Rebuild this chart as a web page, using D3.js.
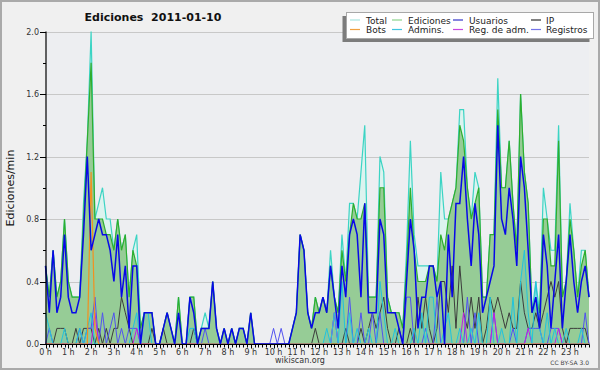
<!DOCTYPE html>
<html><head><meta charset="utf-8">
<script src="https://cdn.jsdelivr.net/npm/d3@7/dist/d3.min.js"></script>
<style>html,body{margin:0;padding:0;background:#f0f0f0;}svg{display:block;font-family:"DejaVu Sans",sans-serif;}</style>
</head><body><svg id="c" width="600" height="370"></svg>
<script>
// 10-minute slots, 00:00 .. 23:50 (144 values per series, edits per minute)
const hourLabels = ["0 h","1 h","2 h","3 h","4 h","5 h","6 h","7 h","8 h","9 h","10 h","11 h","12 h","13 h","14 h","15 h","16 h","17 h","18 h","19 h","20 h","21 h","22 h","23 h"];
const yTicks = [0, 0.4, 0.8, 1.2, 1.6, 2.0];
const yMinorTicks = [0.2, 0.6, 1.0, 1.4, 1.8];

const total = [
0.5,0.3,0.6,0.3,0.4,0.8,0.4,0.3,0.3,0.3,0.9,1.3,
2.0,0.8,0.9,1.0,0.8,0.8,0.6,0.8,0.6,0.7,0.3,0.6,
0.7,0.1,0.2,0.2,0.2,0,0,0.1,0.2,0.1,0,0.3,
0,0,0.3,0.3,0,0.1,0.2,0.1,0.4,0.1,0,0.1,
0,0.1,0,0.1,0.1,0,0.2,0,0,0,0,0,
0,0,0,0,0,0.1,0.2,0.7,0.6,0.2,0.1,0.3,
0.2,0.3,0.2,0.6,0.3,0.2,0.7,0.4,0.9,0.9,0.8,1.1,
1.4,0.3,0.3,0.3,1.2,1.1,0.3,0.2,0.2,0.2,0.1,0.6,
1.3,0.7,0.5,0.5,0.5,0.5,0.5,0.4,1.1,0.8,0.8,0.9,
1.0,1.5,1.5,1.0,0.8,1.1,1.0,0.3,0.3,0.7,0.7,1.7,
1.0,1.0,1.3,0.9,0.6,1.6,1.1,0.9,0.2,0.4,0.2,1.0,
0.8,0.6,0.6,1.4,0.3,0.4,0.9,0.6,0.3,0.6,0.6,0.3];

const ediciones = [
0.5,0.3,0.6,0.3,0.4,0.8,0.4,0.3,0.3,0.3,0.8,1.3,
1.8,0.8,0.8,0.8,0.7,0.7,0.6,0.8,0.6,0.7,0.3,0.6,
0.5,0.1,0.2,0.2,0.2,0,0,0.1,0.2,0.1,0,0.3,
0,0,0.3,0.3,0,0.1,0.1,0.1,0.4,0.1,0,0.1,
0,0.1,0,0.1,0.1,0,0.2,0,0,0,0,0,
0,0,0,0,0,0.1,0.2,0.7,0.6,0.2,0.1,0.3,
0.2,0.3,0.2,0.5,0.3,0.2,0.6,0.4,0.7,0.9,0.8,0.8,
0.9,0.3,0.3,0.3,1.0,1.0,0.3,0.2,0.2,0.2,0.1,0.5,
1.0,0.6,0.4,0.4,0.4,0.5,0.5,0.4,0.7,0.6,0.8,0.9,
1.0,1.4,1.3,1.0,0.8,0.9,1.0,0.3,0.3,0.7,0.7,1.5,
1.0,1.0,1.3,0.9,0.6,1.6,1.1,0.9,0.2,0.3,0.2,0.8,
0.8,0.5,0.5,1.3,0.3,0.4,0.8,0.6,0.3,0.5,0.6,0.3];

const usuarios = [
0.5,0.2,0.6,0.2,0.3,0.7,0.3,0.2,0.2,0.3,0.7,1.2,
0.6,0.7,0.8,0.7,0.7,0.6,0.4,0.7,0.3,0.5,0.1,0.5,
0.5,0,0.2,0.2,0.2,0,0,0.1,0.2,0.1,0,0.2,
0,0,0.3,0.2,0,0.1,0.1,0.1,0.4,0.1,0,0.1,
0,0.1,0,0.1,0.1,0,0.2,0,0,0,0,0,
0,0,0,0,0,0.1,0.2,0.7,0.6,0.2,0.1,0.2,
0.2,0.3,0.2,0.5,0.3,0.1,0.5,0.3,0.7,0.8,0.7,0.3,
0.9,0.2,0.2,0.2,0.8,0.7,0.2,0.2,0.2,0.1,0,0.4,
0.8,0.6,0.1,0.3,0.3,0.5,0.5,0.3,0.4,0,0.7,0.3,
0.9,0.9,1.2,0.8,0.5,0.9,0.7,0.2,0.3,0.4,0.5,1.4,
0.8,0.7,1.0,0.8,0.5,1.2,1.0,0.6,0.2,0.3,0.1,0.7,
0.5,0.1,0.4,0.7,0.1,0.4,0.7,0.4,0.2,0.4,0.5,0.3];

const ip = [
0,0,0,0.1,0.1,0.1,0,0,0.1,0,0.1,0.1,
0.1,0,0.1,0,0.1,0,0.1,0.1,0.3,0.2,0.1,0,
0,0,0,0,0.1,0,0,0.1,0,0,0,0,
0,0,0,0.1,0,0,0,0,0,0,0,0,
0,0,0,0,0,0,0,0,0,0,0,0,
0,0,0,0,0,0,0,0,0,0,0,0.1,
0,0,0,0,0,0,0,0.1,0,0,0,0.1,
0,0.1,0.2,0.1,0.2,0.3,0.1,0,0,0.1,0,0,
0.1,0,0.3,0.1,0.3,0.1,0,0.1,0.4,0.4,0.2,0.5,
0.1,0.5,0.2,0.1,0.3,0.1,0.3,0,0.1,0.3,0.2,0.3,
0.2,0.1,0.2,0.1,0.1,0.4,0.2,0.1,0.1,0.2,0.1,0.2,
0.3,0.4,0.3,0.4,0.1,0,0.1,0.1,0.1,0.1,0.1,0];

const bots = [
0,0,0,0,0,0,0,0,0,0,0,0,
1.1,0.1,0,0,0,0,0,0,0,0,0,0,
0,0,0,0,0,0,0,0,0,0,0,0,
0,0,0,0,0,0,0,0,0,0,0,0,
0,0,0,0,0,0,0,0,0,0,0,0,
0,0,0,0,0,0,0,0,0,0,0,0,
0,0,0,0,0,0,0,0,0,0,0,0,
0,0,0,0,0,0,0,0,0,0,0,0,
0,0,0,0,0,0,0,0,0,0,0,0,
0,0,0,0,0,0,0,0,0,0,0,0,
0,0,0,0,0,0,0,0,0,0,0,0,
0,0,0,0,0,0,0,0,0,0,0,0];

const admins = [
0.2,0.1,0,0,0,0.1,0,0,0,0.1,0,0.1,
0.2,0,0,0,0,0,0,0,0,0,0,0.1,
0.2,0,0.2,0.2,0,0,0,0,0,0,0,0,
0,0,0.1,0.1,0,0,0,0,0,0,0,0,
0,0,0,0,0,0,0,0,0,0,0,0,
0,0,0,0,0,0,0,0,0,0,0,0,
0,0,0.1,0,0.2,0,0.4,0,0.2,0,0.1,0,
0,0.1,0,0,0.4,0.2,0,0,0.1,0,0,0,
0,0.1,0,0.2,0,0.3,0.3,0,0,0.1,0.2,0,
0,0.1,0,0,0.1,0,0.2,0,0,0.3,0,0,
0.1,0,0,0.3,0,0.4,0.6,0.2,0,0.4,0.1,0,
0.2,0,0.1,0,0,0.1,0,0,0,0.1,0,0];

const regAdm = [
0,0,0,0,0,0,0,0,0,0,0,0,
0,0.2,0,0,0,0,0,0,0,0,0,0,
0.1,0,0,0,0,0,0,0,0,0,0,0,
0,0,0,0,0,0,0,0,0,0,0,0,
0,0,0,0,0,0,0,0,0,0,0,0,
0,0,0,0,0,0,0,0,0,0,0,0,
0,0,0,0,0.2,0,0,0,0,0,0,0,
0,0,0,0,0,0,0,0,0,0,0,0,
0,0,0,0,0,0,0,0,0,0,0,0,
0,0,0.2,0,0,0,0,0,0,0,0.2,0,
0,0,0,0,0,0,0,0.1,0,0,0,0,
0,0,0,0.1,0,0,0,0,0,0,0,0];

const registros = [
0,0.1,0,0,0,0,0,0,0,0.1,0,0.1,
0.1,0.3,0,0.2,0,0.1,0.2,0,0.1,0,0.1,0.1,
0.1,0,0,0,0,0,0,0,0,0,0,0,
0,0,0,0,0,0,0.1,0,0,0,0,0,
0,0,0,0,0,0,0,0,0,0,0,0,
0.1,0,0.1,0,0,0,0,0,0,0,0,0,
0,0,0,0,0.2,0,0,0,0.3,0,0,0.2,
0,0,0.2,0,0.2,0,0,0,0,0,0,0.3,
0.3,0,0,0,0.1,0,0,0.3,0,0,0,0,
0,0,0,0.3,0,0.2,0,0,0,0,0.2,0,
0,0,0,0.1,0,0,0,0.1,0.1,0.1,0.1,0,
0,0.1,0.1,0.1,0,0,0,0,0,0,0.2,0];

const legendNames = ["Total","Ediciones","Usuarios","IP","Bots","Admins.","Reg. de adm.","Registros"];
const legendColors = ["#a8e4e0","#8cd48c","#3434c8","#303030","#f0a040","#40c4e0","#c848e0","#7474e8"];

const svg = d3.select("#c");
const W = 600, H = 370;
svg.append("rect").attr("x",1).attr("y",1).attr("width",W-2).attr("height",H-2)
  .attr("fill","#f0f0f0").attr("stroke","#aaaaaa").attr("stroke-width",2);

const x = d3.scaleLinear().domain([0, total.length - 1]).range([45.5, 589]);
const y = d3.scaleLinear().domain([0, 2]).range([344, 31.5]);
const idx = d3.range(total.length);

svg.append("rect").attr("x",x(0)).attr("y",y(2)).attr("width",x(143)-x(0)).attr("height",y(0)-y(2)).attr("fill","#edeef1");

// grid
svg.append("g").selectAll("line").data(yTicks.slice(1)).join("line")
  .attr("x1",x(0)).attr("x2",x(143)).attr("y1",d=>Math.round(y(d))+0.5).attr("y2",d=>Math.round(y(d))+0.5)
  .attr("stroke","#c8c8c8").attr("stroke-width",1);

const area = arr => d3.area().x(i=>x(i)).y0(y(0)).y1(i=>y(arr[i]))(idx);
const line = arr => d3.line().x(i=>x(i)).y(i=>y(arr[i]))(idx);

const plot = svg.append("g");
plot.append("path").attr("d",area(total)).attr("fill","#d9f3ee").attr("fill-opacity",0.9);
plot.append("path").attr("d",line(total)).attr("fill","none").attr("stroke","#3cd4c4").attr("stroke-width",1.2);
plot.append("path").attr("d",area(ediciones)).attr("fill","#96cc96");
plot.append("path").attr("d",area(admins)).attr("fill","#40b8e0").attr("fill-opacity",0.18);
plot.append("path").attr("d",line(ediciones)).attr("fill","none").attr("stroke","#2eae2e").attr("stroke-width",1.2);

const lineSeries = [
  [ip, "#3c3c3c", 1],
  [registros, "#5252f0", 1],
  [regAdm, "#c020e0", 1],
  [admins, "#22c4dc", 1],
  [bots, "#f29020", 1.2],
  [usuarios, "#0808e8", 1.5]
];
lineSeries.forEach(([arr,c,w]) => {
  plot.append("path").attr("d",line(arr)).attr("fill","none").attr("stroke",c).attr("stroke-width",w).attr("stroke-linejoin","miter");
});

// axes
const ax = svg.append("g");
ax.append("line").attr("x1",46).attr("x2",46).attr("y1",y(2)).attr("y2",y(0)+0.5).attr("stroke","#000").attr("stroke-width",1.2);
ax.append("line").attr("x1",45.5).attr("x2",x(143)+0.5).attr("y1",344.5).attr("y2",344.5).attr("stroke","#000").attr("stroke-width",1.2);
ax.selectAll(".yt").data(yTicks).join("line").attr("x1",40).attr("x2",46).attr("y1",d=>Math.round(y(d))+0.5).attr("y2",d=>Math.round(y(d))+0.5).attr("stroke","#000");
ax.selectAll(".ym").data(yMinorTicks).join("line").attr("x1",43).attr("x2",46).attr("y1",d=>Math.round(y(d))+0.5).attr("y2",d=>Math.round(y(d))+0.5).attr("stroke","#000");
ax.selectAll(".yl").data(yTicks).join("text").attr("x",39).attr("y",d=>y(d)+3).attr("text-anchor","end")
  .attr("font-size",8).attr("fill","#333").text(d=>d.toFixed(1));
ax.selectAll(".xt").data(idx).join("line").attr("x1",i=>Math.round(x(i))+0.5).attr("x2",i=>Math.round(x(i))+0.5)
  .attr("y1",344.5).attr("y2",i=>i%6===0?348.5:347.5).attr("stroke","#000");
ax.selectAll(".xl").data(hourLabels).join("text").attr("x",(d,k)=>x(k*6)).attr("y",354.5).attr("text-anchor","middle")
  .attr("font-size",8).attr("fill","#333").text(d=>d);

// titles
svg.append("text").attr("x",153).attr("y",21).attr("text-anchor","middle").attr("font-size",11).attr("font-weight","bold")
  .attr("fill","#111").attr("xml:space","preserve").style("white-space","pre").text("Ediciones  2011-01-10");
svg.append("text").attr("transform","translate(13.5,188) rotate(-90)").attr("text-anchor","middle").attr("font-size",11)
  .attr("fill","#111").text("Ediciones/min");
svg.append("text").attr("x",300).attr("y",363).attr("text-anchor","middle").attr("font-size",8).attr("fill","#333").text("wikiscan.org");
svg.append("text").attr("x",589).attr("y",365).attr("text-anchor","end").attr("font-size",6).attr("fill","#444").text("CC BY-SA 3.0");

// legend
const lg = svg.append("g");
lg.append("rect").attr("x",342.5).attr("y",16).attr("width",247).attr("height",26).attr("fill","#7c7c7c");
lg.append("rect").attr("x",346.5).attr("y",12.5).attr("width",247).attr("height",26).attr("fill","#fff").attr("stroke","#a8a8a8");
const colLine = [350, 392, 453, 531], colText = [366, 408, 469, 546], rowY = [20, 29.5];
legendNames.forEach((n,k) => {
  const c = k % 4, r = Math.floor(k / 4);
  lg.append("line").attr("x1",colLine[c]).attr("x2",colLine[c]+10).attr("y1",rowY[r]).attr("y2",rowY[r]).attr("stroke",legendColors[k]).attr("stroke-width",1.2);
  lg.append("text").attr("x",colText[c]).attr("y",rowY[r]+3.5).attr("font-size",9).attr("fill","#222").text(n);
});
</script></body></html>
